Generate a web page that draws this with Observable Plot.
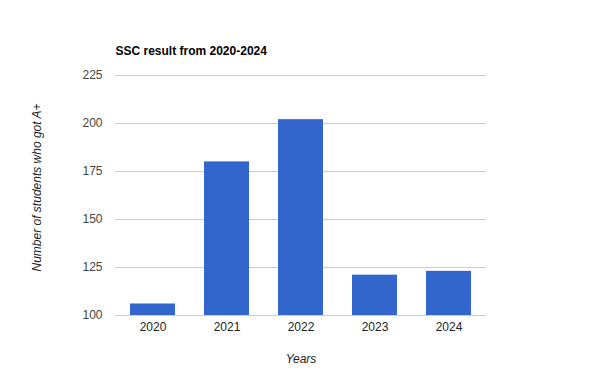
<!DOCTYPE html>
<html>
<head>
<meta charset="utf-8">
<script src="https://cdn.jsdelivr.net/npm/d3@7"></script>
<script src="https://cdn.jsdelivr.net/npm/@observablehq/plot@0.6"></script>
<style>
  html, body { margin: 0; padding: 0; background: #fff; }
  svg { font-family: Arial, "Liberation Sans", sans-serif; }
</style>
</head>
<body>
<div id="chart"></div>
<script>
const title = "SSC result from 2020-2024";
const years = ["2020", "2021", "2022", "2023", "2024"];
const students = [106, 180, 202, 121, 123];
const yTicks = [100, 125, 150, 175, 200, 225];
const xLabel = "Years";
const yLabel = "Number of students who got A+";

const data = years.map((y, i) => ({year: y, value: students[i]}));

const chart = Plot.plot({
  width: 600,
  height: 390,
  marginTop: 75,
  marginBottom: 75,
  marginLeft: 115,
  marginRight: 114,
  style: {fontFamily: "Arial, 'Liberation Sans', sans-serif", fontSize: "12px", color: "#444"},
  x: {domain: years, paddingInner: 0.39, paddingOuter: 0.195, label: null},
  y: {domain: [100, 225], label: null},
  marks: [
    Plot.gridY(yTicks, {stroke: "#cccccc", strokeOpacity: 1, strokeWidth: 1}),
    Plot.barY(data, {x: "year", y1: 100, y2: "value", fill: "#3366cc"}),
    Plot.axisX({tickSize: 0, tickPadding: 7, fontSize: 12, fill: "#222", label: null}),
    Plot.axisY(yTicks, {tickSize: 0, tickPadding: 13, fontSize: 12, fill: "#444", label: null}),
    Plot.text([xLabel], {frameAnchor: "bottom", dy: 47, fontStyle: "italic", fontSize: 12, fill: "#222"}),
    Plot.text([yLabel], {frameAnchor: "left", textAnchor: "middle", dx: -78, dy: -8, rotate: -90, fontStyle: "italic", fontSize: 12, fill: "#222"}),
    Plot.text([title], {frameAnchor: "top-left", dy: -29, textAnchor: "start", fontWeight: "bold", fontSize: 12, fill: "#000"})
  ]
});
document.getElementById("chart").appendChild(chart);
</script>
</body>
</html>
